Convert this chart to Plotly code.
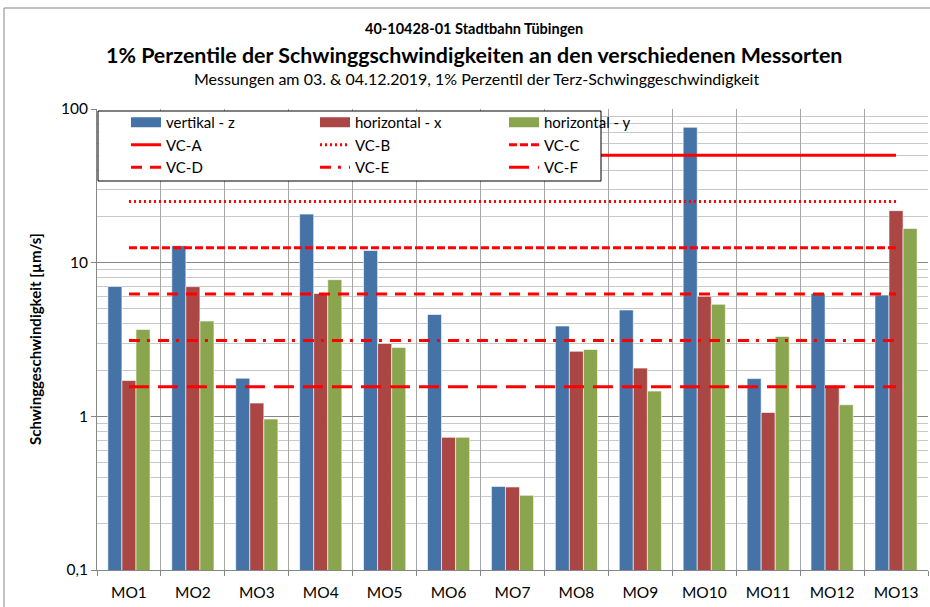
import plotly.graph_objects as go

# Messorte
categories = ["MO1", "MO2", "MO3", "MO4", "MO5", "MO6", "MO7",
              "MO8", "MO9", "MO10", "MO11", "MO12", "MO13"]

# 1% Perzentile [µm/s]
vertikal_z = [7.0, 12.9, 1.77, 20.7, 12.0, 4.6, 0.35, 3.87, 4.92, 76.0, 1.76, 6.3, 6.15]
horizontal_x = [1.71, 6.98, 1.22, 6.3, 2.98, 0.73, 0.347, 2.65, 2.06, 6.04, 1.06, 1.59, 21.8]
horizontal_y = [3.68, 4.17, 0.96, 7.75, 2.81, 0.73, 0.306, 2.72, 1.46, 5.36, 3.31, 1.19, 16.7]

# VC-Kriterien
vc_names = ["VC-A", "VC-B", "VC-C", "VC-D", "VC-E", "VC-F"]
vc_values = [50, 25, 12.5, 6.25, 3.12, 1.56]
vc_dashes = ["solid", "2px,3px", "8px,3px", "11px,8px", "11px,7px,3px,8px", "20px,9px"]

bar_names = ["vertikal - z", "horizontal - x", "horizontal - y"]
bar_data = [vertikal_z, horizontal_x, horizontal_y]
bar_colors = ["#4572A7", "#AA4643", "#89A54E"]

y_ticks = [0.1, 1, 10, 100]
y_ticktext = ["0,1", "1", "10", "100"]

FONT = "Lato"

fig = go.Figure()

for name, vals, col in zip(bar_names, bar_data, bar_colors):
    fig.add_trace(go.Bar(
        x=categories, y=vals, name=name,
        marker=dict(color=col, line=dict(color="rgba(255,255,255,0.6)", width=1)),
        showlegend=False,
    ))

for name, val, dash in zip(vc_names, vc_values, vc_dashes):
    fig.add_trace(go.Scatter(
        x=[categories[0], categories[-1]], y=[val, val], name=name,
        mode="lines", line=dict(color="#FF0000", width=3, dash=dash),
        showlegend=False,
    ))

# legend entries, 3 columns
legend_ids = ["legend", "legend2", "legend3"]
for i, (name, col) in enumerate(zip(bar_names, bar_colors)):
    fig.add_trace(go.Scatter(
        x=[None], y=[None], name=name, mode="lines",
        line=dict(color=col, width=10), legend=legend_ids[i],
    ))
for i, (name, dash) in enumerate(zip(vc_names, vc_dashes)):
    fig.add_trace(go.Scatter(
        x=[None], y=[None], name=name, mode="lines",
        line=dict(color="#FF0000", width=3, dash=dash), legend=legend_ids[i % 3],
    ))

L, R, T, B = 97, 2, 109, 37
W, H = 930, 607
pw, ph = W - L - R, H - T - B


def px_x(x):
    return (x - L) / pw


def px_y(y):
    return (H - B - y) / ph


leg_style = dict(font=dict(family=FONT, size=15, color="#000"), bgcolor="rgba(0,0,0,0)",
                 borderwidth=0, orientation="v", xanchor="left", yanchor="top",
                 tracegroupgap=0, itemwidth=30)
legend_x = [126, 315, 504]
for lid, lx in zip(legend_ids, legend_x):
    fig.update_layout({lid: dict(leg_style, x=px_x(lx), y=px_y(106))})


def label(text, x, y, size, angle=0):
    return dict(text=text, xref="paper", yref="paper", x=px_x(x), y=px_y(y),
                xanchor="center", yanchor="middle", showarrow=False,
                textangle=angle, font=dict(size=size))


fig.update_layout(
    width=W, height=H,
    margin=dict(l=L, r=R, t=T, b=B),
    paper_bgcolor="white", plot_bgcolor="white",
    font=dict(family=FONT, size=15, color="#000"),
    barmode="group", bargap=0.34, bargroupgap=0,
    xaxis=dict(
        type="category", tickson="boundaries", showgrid=True, gridcolor="#a6a6a6",
        gridwidth=1, ticks="outside", ticklen=5, tickcolor="#868686",
        showline=True, linecolor="#868686", linewidth=1,
        tickfont=dict(size=15.5), ticklabelstandoff=8,
    ),
    yaxis=dict(
        type="log", range=[-1, 2], tickvals=y_ticks, ticktext=y_ticktext,
        showgrid=True, gridcolor="#868686", gridwidth=1,
        ticks="outside", ticklen=5, tickcolor="#868686",
        showline=True, linecolor="#868686", linewidth=1,
        tickfont=dict(size=15.5),
        minor=dict(
            tickvals=[k * 10 ** e for e in (-1, 0, 1) for k in range(2, 10)],
            showgrid=True, gridcolor="#c8c8c8", gridwidth=1,
        ),
    ),
    shapes=[
        # legend box
        dict(type="rect", xref="paper", yref="paper", layer="above",
             x0=px_x(98), x1=px_x(601), y0=px_y(181), y1=px_y(111),
             fillcolor="white", line=dict(color="#000", width=1)),
        # chart frame
        dict(type="line", xref="paper", yref="paper",
             x0=px_x(4), x1=px_x(4), y0=px_y(8), y1=px_y(607),
             line=dict(color="#868686", width=1)),
        dict(type="line", xref="paper", yref="paper",
             x0=px_x(4), x1=px_x(930), y0=px_y(8), y1=px_y(8),
             line=dict(color="#868686", width=1)),
    ],
    annotations=[
        label("<b>40-10428-01 Stadtbahn Tübingen</b>", 474, 29, 14.5),
        label("<b>1% Perzentile der Schwinggschwindigkeiten an den verschiedenen Messorten</b>",
              474, 55, 21.4),
        label("Messungen am 03. & 04.12.2019, 1% Perzentil der Terz-Schwinggeschwindigkeit",
              476, 78, 16),
        label("<b>Schwinggeschwindigkeit [µm/s]</b>", 35, 339, 15, -90),
    ],
)

fig.write_html("out.html", config={"displayModeBar": False},
               post_script="document.body.style.margin='0';")
